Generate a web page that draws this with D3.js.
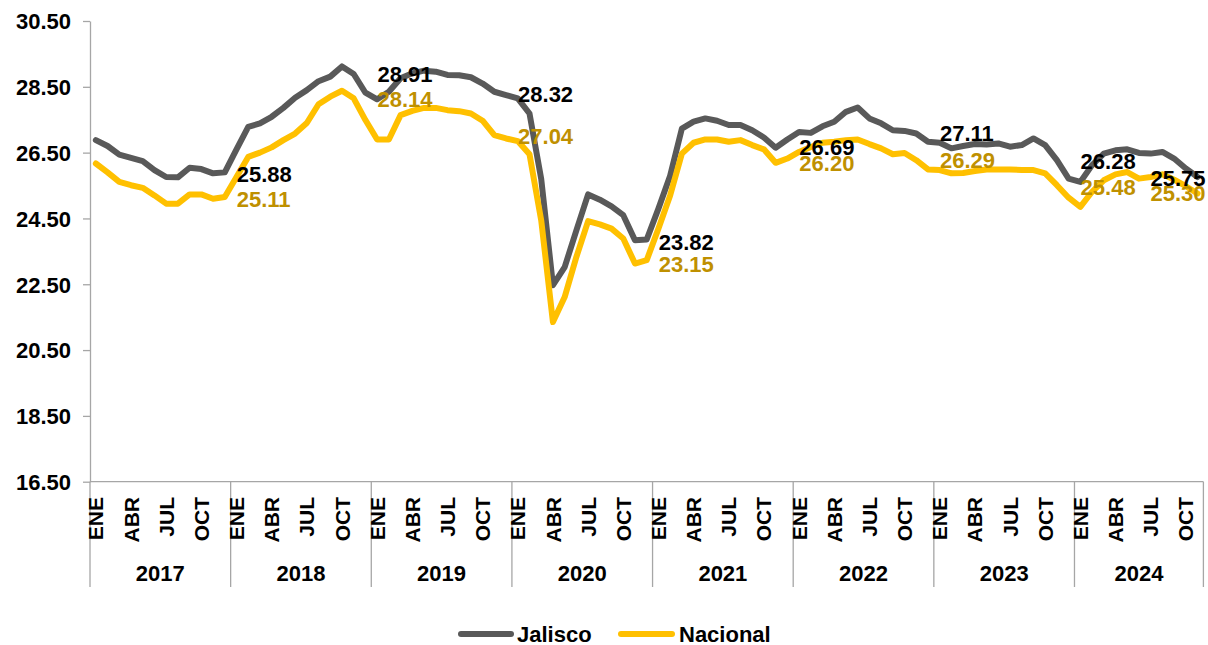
<!DOCTYPE html>
<html>
<head>
<meta charset="utf-8">
<script src="https://cdn.jsdelivr.net/npm/d3@7"></script>
<style>
  body { margin: 0; background: #fff; }
  svg text { font-family: "Liberation Sans", Arial, sans-serif; font-weight: bold; }
</style>
</head>
<body>
<svg id="chart" width="1208" height="645"></svg>
<script>
var years = ["2017", "2018", "2019", "2020", "2021", "2022", "2023", "2024"];
var monthNames = ["ENE", "FEB", "MAR", "ABR", "MAY", "JUN", "JUL", "AGO", "SEP", "OCT", "NOV", "DIC"];
var yTicks = [16.5, 18.5, 20.5, 22.5, 24.5, 26.5, 28.5, 30.5];

var jalisco = [
  26.88, 26.70, 26.44, 26.34, 26.24, 25.97, 25.76, 25.75, 26.04, 26.00, 25.87, 25.90,
  26.60, 27.28, 27.39, 27.59, 27.86, 28.17, 28.40, 28.67, 28.81, 29.12, 28.89, 28.32,
  28.12, 28.35, 28.76, 28.91, 28.99, 28.96, 28.86, 28.85, 28.79, 28.60, 28.35, 28.25,
  28.15, 27.69, 25.70, 22.47, 23.02, 24.14, 25.23, 25.07, 24.87, 24.60, 23.84, 23.86,
  24.80, 25.80, 27.23, 27.44, 27.54, 27.47, 27.34, 27.34, 27.18, 26.96, 26.65, 26.90,
  27.13, 27.10, 27.30, 27.44, 27.74, 27.87, 27.54, 27.39, 27.18, 27.16, 27.08, 26.83,
  26.80, 26.63, 26.70, 26.76, 26.75, 26.78, 26.68, 26.73, 26.93, 26.73, 26.27, 25.71,
  25.61, 26.12, 26.47, 26.57, 26.60, 26.49, 26.47, 26.52, 26.32, 26.02, 25.76
];
var nacional = [
  26.17, 25.90, 25.61, 25.51, 25.43, 25.20, 24.95, 24.95, 25.23, 25.23, 25.10, 25.15,
  25.76, 26.37, 26.50, 26.66, 26.88, 27.08, 27.40, 27.97, 28.20, 28.38, 28.15, 27.49,
  26.90, 26.90, 27.64, 27.77, 27.86, 27.86, 27.79, 27.76, 27.69, 27.47, 27.03, 26.93,
  26.85, 26.45, 24.44, 21.35, 22.11, 23.33, 24.42, 24.32, 24.19, 23.89, 23.13, 23.23,
  24.19, 25.20, 26.47, 26.80, 26.90, 26.90, 26.83, 26.88, 26.73, 26.60, 26.19, 26.32,
  26.52, 26.67, 26.80, 26.83, 26.88, 26.90, 26.76, 26.63, 26.45, 26.49, 26.27, 25.99,
  25.97, 25.87, 25.88, 25.94, 25.99, 25.99, 25.99, 25.97, 25.97, 25.87, 25.51, 25.13,
  24.85, 25.31, 25.66, 25.84, 25.91, 25.71, 25.76, 25.84, 25.68, 25.48, 25.26
];

// labels sit next to the december point of each year, plus the last month
var labelIdx = [11, 23, 35, 47, 59, 71, 83, 94];
var jaliscoLabels = [25.88, 28.91, 28.32, 23.82, 26.69, 27.11, 26.28, 25.75];
var nacionalLabels = [25.11, 28.14, 27.04, 23.15, 26.20, 26.29, 25.48, 25.30];

var colors = { Jalisco: "#595959", Nacional: "#FFC000" };
var labelColors = { Jalisco: "#000000", Nacional: "#BF9000" };
var axisColor = "#A6A6A6";

var svg = d3.select("#chart");
var plotLeft = 90, plotTop = 21, plotBottom = 481.7, monthW = 11.72;
var n = jalisco.length;

var x = d3.scaleBand()
    .domain(d3.range(n))
    .range([plotLeft, plotLeft + n * monthW]);
var y = d3.scaleLinear().domain([16.5, 30.5]).range([plotBottom, plotTop]);
var cx = function(i) { return x(i) + x.bandwidth() / 2; };

// y axis
var yAxis = svg.append("g")
    .attr("transform", "translate(" + plotLeft + ",0)")
    .call(d3.axisLeft(y).tickValues(yTicks).tickFormat(d3.format(".2f")).tickSize(7).tickSizeOuter(0).tickPadding(12));
yAxis.selectAll("path, line").attr("stroke", axisColor).attr("stroke-width", 1.3);
yAxis.selectAll("text").attr("fill", "#000").style("font-size", "22px").attr("dy", "0.36em");

// x axis line
var xEnd = x.range()[1];
svg.append("line")
    .attr("x1", plotLeft).attr("x2", xEnd)
    .attr("y1", plotBottom).attr("y2", plotBottom)
    .attr("stroke", axisColor).attr("stroke-width", 1.3);

// year separators
var bounds = d3.range(0, n, 12).map(function(i) { return x(i); }).concat([xEnd]);
svg.selectAll(".sep")
    .data(bounds)
    .enter().append("line")
    .attr("x1", function(d) { return d; }).attr("x2", function(d) { return d; })
    .attr("y1", plotBottom).attr("y2", 587)
    .attr("stroke", axisColor).attr("stroke-width", 1.3);

// month labels (every third)
svg.selectAll(".month")
    .data(d3.range(n).filter(function(i) { return i % 3 === 0; }))
    .enter().append("text")
    .attr("transform", function(i) { return "translate(" + cx(i) + ",497) rotate(-90)"; })
    .attr("text-anchor", "end")
    .attr("dy", "0.36em")
    .style("font-size", "21px")
    .text(function(i) { return monthNames[i % 12]; });

// year labels
svg.selectAll(".year")
    .data(years)
    .enter().append("text")
    .attr("x", function(d, k) { return (bounds[k] + bounds[k + 1]) / 2; })
    .attr("y", 573)
    .attr("dy", "0.36em")
    .attr("text-anchor", "middle")
    .style("font-size", "22px")
    .text(function(d) { return d; });

var series = [
  { name: "Jalisco", values: jalisco, labels: jaliscoLabels },
  { name: "Nacional", values: nacional, labels: nacionalLabels }
];

var line = d3.line()
    .x(function(d, i) { return cx(i); })
    .y(function(d) { return y(d); });

svg.selectAll(".series")
    .data(series)
    .enter().append("path")
    .attr("d", function(s) { return line(s.values); })
    .attr("fill", "none")
    .attr("stroke", function(s) { return colors[s.name]; })
    .attr("stroke-width", 6)
    .attr("stroke-linejoin", "round")
    .attr("stroke-linecap", "round");

series.forEach(function(s) {
  svg.selectAll(null)
      .data(s.labels)
      .enter().append("text")
      .attr("x", function(d, k) {
        var i = labelIdx[k];
        return i === n - 1 ? cx(i) + 8 : cx(i) + 12;
      })
      .attr("y", function(d) { return y(d); })
      .attr("dy", "0.4em")
      .attr("text-anchor", function(d, k) { return labelIdx[k] === n - 1 ? "end" : "start"; })
      .attr("fill", labelColors[s.name])
      .style("font-size", "22px")
      .text(function(d) { return d.toFixed(2); });
});

// legend
var legend = [
  { name: "Jalisco", x1: 461, x2: 511, tx: 517 },
  { name: "Nacional", x1: 621, x2: 672, tx: 679 }
];
var lg = svg.selectAll(".legend")
    .data(legend)
    .enter().append("g");
lg.append("line")
    .attr("x1", function(d) { return d.x1; }).attr("x2", function(d) { return d.x2; })
    .attr("y1", 634).attr("y2", 634)
    .attr("stroke", function(d) { return colors[d.name]; })
    .attr("stroke-width", 6)
    .attr("stroke-linecap", "round");
lg.append("text")
    .attr("x", function(d) { return d.tx; })
    .attr("y", 634)
    .attr("dy", "0.36em")
    .style("font-size", "22px")
    .text(function(d) { return d.name; });
</script>
</body>
</html>
